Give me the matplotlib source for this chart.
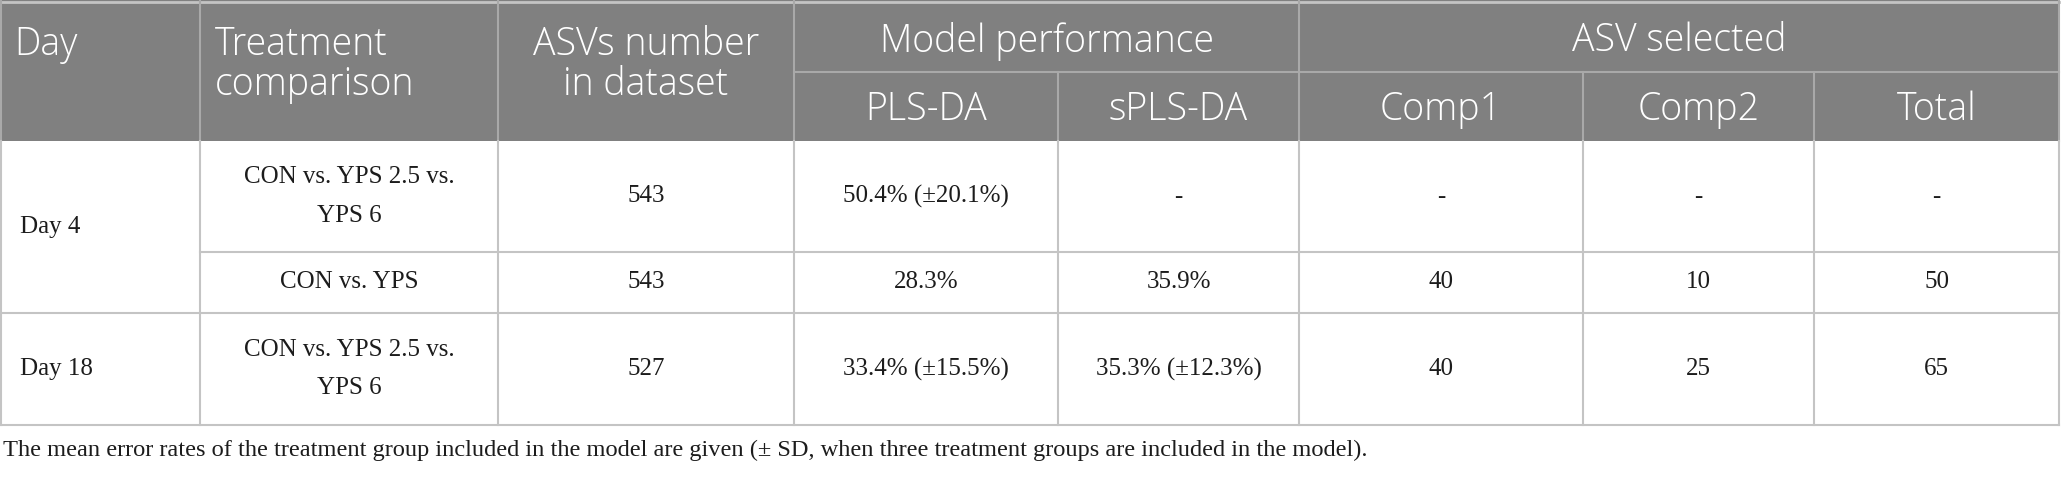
import matplotlib.pyplot as plt

# table content
days = ['Day 4', 'Day 18']
comparisons = ['CON vs. YPS 2.5 vs.\nYPS 6', 'CON vs. YPS', 'CON vs. YPS 2.5 vs.\nYPS 6']
asv_numbers = ['543', '543', '527']
pls_da = ['50.4% (±20.1%)', '28.3%', '33.4% (±15.5%)']
spls_da = ['-', '35.9%', '35.3% (±12.3%)']
comp1 = ['-', '40', '40']
comp2 = ['-', '10', '25']
total = ['-', '50', '65']
caption = ('The mean error rates of the treatment group included in the model are given '
           '(± SD, when three treatment groups are included in the model).')

# layout in pixels
W, H = 2061, 478
col_edges = [0, 200, 498, 794, 1058, 1299, 1583, 1814, 2059]
row_edges = [0, 72, 141, 252, 313, 425]
HEAD_BG = '#808080'
GRID = '#c4c4c4'
HEAD_GRID = '#a9a9a9'
TXT = '#1c1c1c'
sans = 'Open Sans'
serif = 'Liberation Serif'
hfs = 27
bfs = 18
line_step = 39


def cx(i, j=None):
    j = i + 1 if j is None else j
    return (col_edges[i] + col_edges[j]) / 2


def cy(r0, r1):
    return (row_edges[r0] + row_edges[r1]) / 2


def lines(ax, x, yc, s, step=line_step, **kw):
    parts = s.split('\n')
    y0 = yc - (len(parts) - 1) * step / 2
    for k, p in enumerate(parts):
        ax.text(x, y0 + k * step, p, va='center', **kw)


fig = plt.figure(figsize=(W / 100, H / 100), dpi=100)
ax = fig.add_axes([0, 0, 1, 1])
ax.set_xlim(0, W)
ax.set_ylim(H, 0)
ax.axis('off')

# header background
ax.add_patch(plt.Rectangle((0, row_edges[0]), col_edges[-1], row_edges[2] - row_edges[0],
                           color=HEAD_BG, lw=0))

# header lines
ax.plot([0, col_edges[-1]], [1.5, 1.5], color=GRID, lw=2)
ax.plot([col_edges[3], col_edges[-1]], [row_edges[1]] * 2, color=HEAD_GRID, lw=1.5)
for i in [1, 2, 3, 5]:
    ax.plot([col_edges[i]] * 2, [row_edges[0], row_edges[2]], color=HEAD_GRID, lw=1.5)
for i in [4, 6, 7]:
    ax.plot([col_edges[i]] * 2, [row_edges[1], row_edges[2]], color=HEAD_GRID, lw=1.5)
for x in [0.5, col_edges[-1]]:
    ax.plot([x, x], [row_edges[0], row_edges[2]], color=HEAD_GRID, lw=1.5)

# header text
hkw = dict(color='white', fontsize=hfs, family=sans, fontweight='light')
y1 = 45
hstep = 40
lines(ax, col_edges[0] + 14, y1, 'Day', ha='left', **hkw)
lines(ax, col_edges[1] + 15, y1 + hstep / 2, 'Treatment\ncomparison', step=hstep, ha='left', **hkw)
lines(ax, cx(2), y1 + hstep / 2, 'ASVs number\nin dataset', step=hstep, ha='center', **hkw)
ax.text(cx(3, 5), y1 - 4, 'Model performance', ha='center', va='center', **hkw)
ax.text(cx(5, 8), y1 - 4, 'ASV selected', ha='center', va='center', **hkw)
for i, lab in zip(range(3, 8), ['PLS-DA', 'sPLS-DA', 'Comp1', 'Comp2', 'Total']):
    ax.text(cx(i), cy(1, 2) + 3, lab, ha='center', va='center', **hkw)

# body grid
ax.plot([col_edges[1], col_edges[-1]], [row_edges[3]] * 2, color=GRID, lw=1.5)
for r in [4, 5]:
    ax.plot([0, col_edges[-1]], [row_edges[r]] * 2, color=GRID, lw=1.5)
for x in [0.5] + col_edges[1:]:
    ax.plot([x, x], [row_edges[2], row_edges[5]], color=GRID, lw=1.5)

# body text
bkw = dict(color=TXT, fontsize=bfs, family=serif)
ax.text(col_edges[0] + 20, cy(2, 4), days[0], ha='left', va='center', **bkw)
ax.text(col_edges[0] + 20, cy(4, 5), days[1], ha='left', va='center', **bkw)
columns = [comparisons, asv_numbers, pls_da, spls_da, comp1, comp2, total]
for r in range(3):
    yc = cy(2 + r, 3 + r)
    for c, col in enumerate(columns):
        lines(ax, cx(c + 1), yc, col[r], ha='center', **bkw)

ax.text(3, 450, caption, ha='left', va='center', color=TXT, fontsize=17.6, family=serif)

fig.savefig('out.png', dpi=100)
